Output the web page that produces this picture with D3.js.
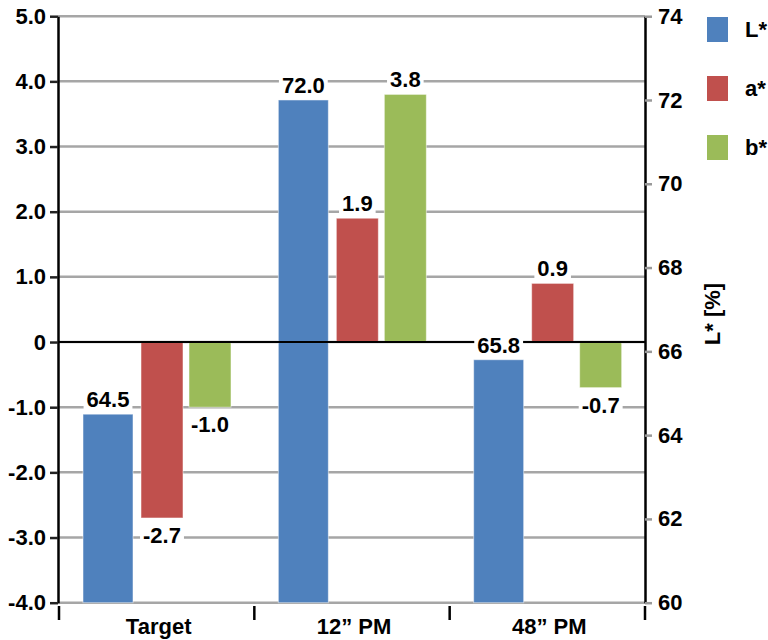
<!DOCTYPE html>
<html>
<head>
<meta charset="utf-8">
<script src="https://cdn.jsdelivr.net/npm/d3@7"></script>
<style>
  body { margin: 0; background: #fff; }
  text { font-family: "Liberation Sans", Arial, sans-serif; font-weight: bold; font-size: 22px; fill: #000; }
</style>
</head>
<body>
<div id="chart"></div>
<script>
// data
var categories = ["Target", "12\u201D PM", "48\u201D PM"];
var lValues = [64.5, 72.0, 65.8];   // L* (right axis)
var aValues = [-2.7, 1.9, 0.9];     // a* (left axis)
var bValues = [-1.0, 3.8, -0.7];    // b* (left axis)
var seriesNames = ["L*", "a*", "b*"];
var leftTicks = [-4, -3, -2, -1, 0, 1, 2, 3, 4, 5];
var rightTicks = [60, 62, 64, 66, 68, 70, 72, 74];

var width = 768;
var height = 640;
var plotLeft = 58, plotRight = 645, plotTop = 16.2, plotBottom = 602.7;

var colors = { "L*": "#4f81bd", "a*": "#c0504d", "b*": "#9bbb59" };

// plain hyphen for negatives, like the original
var fmt = d3.formatLocale({ decimal: ".", thousands: ",", grouping: [3], currency: ["", ""], minus: "-" }).format(".1f");

var svg = d3.select("#chart").append("svg")
  .attr("width", width)
  .attr("height", height);

var x = d3.scaleBand().domain(categories).range([plotLeft, plotRight - 1]).padding(0);
// bar centre offset inside each category and bar width
var inner = d3.scaleOrdinal().domain(seriesNames).range([50, 104, 152]);
var barW = { "L*": 50, "a*": 42, "b*": 42 };

var yLeft = d3.scaleLinear().domain([-4, 5]).range([plotBottom, plotTop]);
var yRight = d3.scaleLinear().domain([60, 74]).range([plotBottom, plotTop]);

// gridlines
svg.append("g").selectAll("line").data(leftTicks).enter().append("line")
  .attr("x1", plotLeft).attr("x2", plotRight)
  .attr("y1", function(d) { return yLeft(d); })
  .attr("y2", function(d) { return yLeft(d); })
  .attr("stroke", "#a6a6a6")
  .attr("stroke-width", 2.5);

// bars
var rows = [];
categories.forEach(function(c, i) {
  rows.push({ cat: c, s: "L*", v: lValues[i] });
  rows.push({ cat: c, s: "a*", v: aValues[i] });
  rows.push({ cat: c, s: "b*", v: bValues[i] });
});

function barTop(d) {
  if (d.s === "L*") return yRight(d.v);
  return Math.min(yLeft(0), yLeft(d.v));
}
function barBottom(d) {
  if (d.s === "L*") return yRight(60);
  return Math.max(yLeft(0), yLeft(d.v));
}
function cx(d) { return x(d.cat) + inner(d.s); }

svg.append("g").selectAll("rect").data(rows).enter().append("rect")
  .attr("x", function(d) { return cx(d) - barW[d.s] / 2; })
  .attr("width", function(d) { return barW[d.s]; })
  .attr("y", barTop)
  .attr("height", function(d) { return barBottom(d) - barTop(d); })
  .attr("fill", function(d) { return colors[d.s]; })
  .attr("stroke", "rgba(255,255,255,0.5)")
  .attr("stroke-width", 1);

// zero line
svg.append("line")
  .attr("x1", plotLeft).attr("x2", plotRight)
  .attr("y1", yLeft(0)).attr("y2", yLeft(0))
  .attr("stroke", "#000").attr("stroke-width", 2);

// value labels with white background
var labels = svg.append("g").selectAll("g").data(rows).enter().append("g");
labels.each(function(d) {
  var g = d3.select(this);
  var above = d.s === "L*" || d.v >= 0;
  var ty = above ? barTop(d) - 7 : barBottom(d) + 25;
  var t = g.append("text")
    .attr("x", cx(d))
    .attr("y", ty)
    .attr("text-anchor", "middle")
    .text(fmt(d.v));
  var bb = t.node().getBBox();
  g.insert("rect", "text")
    .attr("x", bb.x - 3).attr("y", bb.y + 2)
    .attr("width", bb.width + 6).attr("height", bb.height - 4)
    .attr("fill", "#fff");
});

// left axis
var leftAxis = svg.append("g")
  .attr("transform", "translate(" + plotLeft + ",0)")
  .call(d3.axisLeft(yLeft).tickValues(leftTicks).tickSize(8).tickSizeOuter(0).tickPadding(4)
    .tickFormat(function(d) { return d === 0 ? "0" : fmt(d); }));
leftAxis.select(".domain").attr("stroke", "#000").attr("stroke-width", 2.5);
leftAxis.selectAll(".tick line").attr("stroke", "#222").attr("stroke-width", 2.5);
leftAxis.selectAll("text").attr("font-size", 22).attr("fill", "#000");

// right axis
var rightAxis = svg.append("g")
  .attr("transform", "translate(" + plotRight + ",0)")
  .call(d3.axisRight(yRight).tickValues(rightTicks).tickSize(7).tickSizeOuter(0).tickPadding(6));
rightAxis.select(".domain").attr("stroke", "#000").attr("stroke-width", 2.5);
rightAxis.selectAll(".tick line").attr("stroke", "#999").attr("stroke-width", 2.5);
rightAxis.selectAll("text").attr("font-size", 22).attr("fill", "#000");

// category axis: ticks on band edges
var edges = categories.map(function(c) { return x(c); }).concat([x.range()[1]]);
svg.append("g").selectAll("line").data(edges).enter().append("line")
  .attr("x1", function(d) { return d + 1; }).attr("x2", function(d) { return d + 1; })
  .attr("y1", 606).attr("y2", 620)
  .attr("stroke", "#000").attr("stroke-width", 2.5);

svg.append("g").selectAll("text").data(categories).enter().append("text")
  .attr("x", function(d) { return x(d) + x.bandwidth() / 2 + 3; })
  .attr("y", 634)
  .attr("text-anchor", "middle")
  .text(function(d) { return d; });

// right axis title
svg.append("text")
  .attr("transform", "translate(720,314)rotate(-90)")
  .attr("text-anchor", "middle")
  .text("L* [%]");

// legend
var legend = svg.append("g").selectAll("g").data(seriesNames).enter().append("g")
  .attr("transform", function(d, i) { return "translate(707," + (17 + i * 59) + ")"; });
legend.append("rect")
  .attr("width", 21).attr("height", 25)
  .attr("fill", function(d) { return colors[d]; });
legend.append("text")
  .attr("x", 38).attr("y", 20)
  .text(function(d) { return d; });
</script>
</body>
</html>
